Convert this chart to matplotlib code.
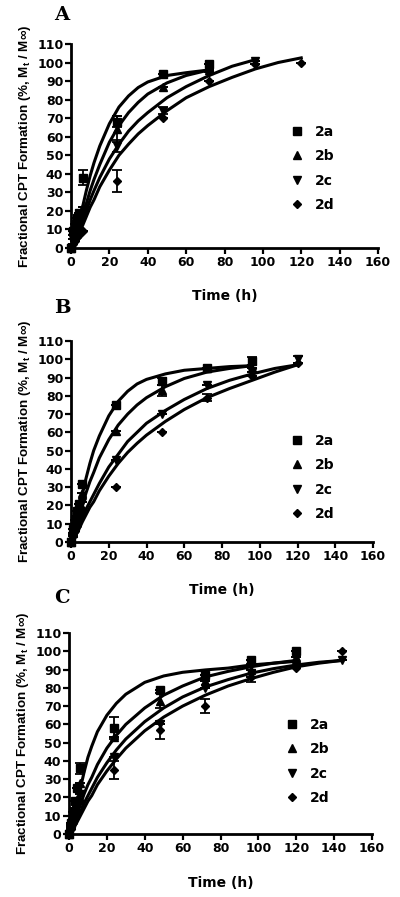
import numpy as np
import matplotlib
matplotlib.use("Agg")
import matplotlib.pyplot as plt

nan = np.nan
series = ['2a', '2b', '2c', '2d']
markers = ['s', '^', 'v', 'D']

# ---- panel A ----
A_fit_t = [0, 2, 4, 6, 8, 10, 12, 15, 20, 25, 30, 35, 40, 50, 60, 72, 84, 96, 108, 120]
A_fit = [
    [0, 5, 13, 22, 31, 39, 46, 55, 67, 76, 82, 86.5, 89.5, 93, 94.5, 96, nan, nan, nan, nan],
    [0, 4, 10, 17, 24, 31, 37, 45, 57, 66, 73, 78.5, 83, 89, 93, 96, nan, nan, nan, nan],
    [0, 3, 8, 14, 20, 26, 31, 38, 48, 56, 63, 68.5, 73, 81, 87, 93, 98, 101.5, nan, nan],
    [0, 2.5, 7, 12, 17, 22, 26, 33, 42, 50, 56, 61.5, 66, 74, 81, 87, 92, 96.5, 100, 102.5],
]
A_t = [0, 1, 2, 3, 4, 6, 24, 48, 72, 96, 120]
A_y = [
    [0, 9, 13, 16, 19, 38, 68, 94, 99, nan, nan],
    [0, 7, 11, 14, 17, 22, 64, 87, 96, nan, nan],
    [0, 5, 8, 11, 14, 18, 55, 74, 95, 101, nan],
    [0, 2, 4, 6, 7, 9, 36, 70, 90, 99, 100],
]
A_err = [
    [0, 0, 0, 0, 0, 4, 3, 0, 0, 0, 0],
    [0, 0, 0, 0, 0, 0, 7, 0, 0, 0, 0],
    [0, 0, 0, 0, 0, 0, 3, 2, 0, 0, 0],
    [0, 0, 0, 0, 0, 0, 6, 0, 0, 0, 0],
]

# ---- panel B ----
B_fit_t = [0, 2, 4, 6, 8, 10, 12, 15, 20, 25, 30, 35, 40, 50, 60, 72, 84, 96, 108, 120]
B_fit = [
    [0, 6, 16, 26, 35, 43, 50, 58, 69, 77, 82.5, 86.5, 89, 92, 94, 95, 96, 96.5, nan, nan],
    [0, 5, 12, 20, 27, 33, 38, 46, 56, 64, 70, 75, 79, 85, 89.5, 93, 95, 96.5, nan, nan],
    [0, 3, 8, 13, 18, 22, 26, 32, 41, 48, 55, 60, 65, 72, 78, 84, 88.5, 92, 95, 97],
    [0, 2.5, 6.5, 11, 15, 19, 22, 28, 36, 43, 49, 54, 58.5, 66, 72.5, 79, 84, 88.5, 93, 97],
]
B_t = [0, 1, 2, 3, 4, 6, 24, 48, 72, 96, 120]
B_y = [
    [0, 7, 12, 17, 21, 32, 75, 88, 95, 99, nan],
    [0, 5, 10, 14, 18, 27, 61, 83, 95, 95, nan],
    [0, 4, 8, 11, 14, 22, 45, 70, 86, 93, 100],
    [0, 3, 6, 9, 12, 18, 30, 60, 79, 91, 98],
]
B_err = [
    [0, 0, 0, 0, 0, 0, 0, 2, 0, 2, 0],
    [0, 0, 0, 0, 0, 0, 0, 3, 0, 0, 0],
    [0, 0, 0, 0, 0, 0, 0, 0, 0, 0, 2],
    [0, 0, 0, 0, 0, 0, 0, 0, 2, 0, 0],
]

# ---- panel C ----
C_fit_t = [0, 2, 4, 6, 8, 10, 12, 15, 20, 25, 30, 40, 50, 60, 72, 84, 96, 108, 120, 132, 144]
C_fit = [
    [0, 6, 15, 25, 34, 42, 48, 56, 65, 71.5, 76.5, 83, 86.5, 88.5, 89.8, 90.8, 92.5, 93.5, 94.5, nan, nan],
    [0, 4, 10, 16, 22, 27, 31, 38, 47, 54, 60, 69, 76, 81, 86, 89, 91.5, 93.5, 95, nan, nan],
    [0, 3, 7.5, 12, 17, 21, 25, 31, 39, 46, 52, 61.5, 69, 75, 80.5, 84.5, 88, 90.5, 92.5, 94, 95],
    [0, 2.5, 6, 10, 14, 18, 21, 27, 34.5, 41, 47, 56.5, 64, 70, 76, 81, 85, 88.5, 91.5, 93.5, 95],
]
C_t = [0, 1, 2, 3, 4, 6, 24, 48, 72, 96, 120, 144]
C_y = [
    [0, 6, 12, 18, 25, 36, 58, 79, 87, 95, 100, nan],
    [0, 5, 10, 14, 19, 28, 53, 73, 84, 90, 97, nan],
    [0, 4, 8, 11, 15, 22, 42, 60, 80, 88, 92, 95],
    [0, 3, 6, 9, 12, 18, 35, 57, 70, 86, 91, 100],
]
C_err = [
    [0, 0, 0, 0, 0, 3, 6, 0, 0, 0, 0, 0],
    [0, 0, 0, 0, 0, 0, 0, 4, 0, 0, 0, 0],
    [0, 0, 0, 0, 0, 0, 0, 0, 0, 5, 0, 0],
    [0, 0, 0, 0, 0, 0, 5, 5, 4, 0, 0, 0],
]

# axes rect, letter y, legend anchor
panels = [
    ('A', A_fit_t, A_fit, A_t, A_y, A_err, [0.1775, 0.7235, 0.7675, 0.2275], 0.983, (0.667, 0.665)),
    ('B', B_fit_t, B_fit, B_t, B_y, B_err, [0.1775, 0.3958, 0.755, 0.224], 0.657, (0.68, 0.60)),
    ('C', C_fit_t, C_fit, C_t, C_y, C_err, [0.1725, 0.0702, 0.7575, 0.2241], 0.333, (0.667, 0.64)),
]

plt.rcParams['font.family'] = ['DejaVu Sans']
plt.rcParams['font.weight'] = 'bold'
plt.rcParams['mathtext.fontset'] = 'custom'
plt.rcParams['mathtext.bf'] = 'Liberation Sans:bold'
plt.rcParams['mathtext.rm'] = 'Liberation Sans:bold'

fig = plt.figure(figsize=(4.0, 8.97), dpi=100)

for letter, ft, fits, pt, ys, errs, rect, ly, lanchor in panels:
    ax = fig.add_axes(rect)
    for i in range(4):
        ax.plot(ft, fits[i], color='black', lw=2.2, clip_on=False)
        ax.errorbar(pt, ys[i], yerr=errs[i], fmt='none', ecolor='black',
                    elinewidth=1.3, capsize=3.5, capthick=1.3, clip_on=False)
        ax.plot(pt, ys[i], ls='none', marker=markers[i], color='black',
                ms=6 if markers[i] != 'D' else 4.5, label=series[i], clip_on=False)
    ax.set_xlim(0, 160)
    ax.set_ylim(0, 110)
    ax.set_xticks(range(0, 161, 20))
    ax.set_yticks(range(0, 111, 10))
    for s in ['top', 'right']:
        ax.spines[s].set_visible(False)
    for s in ['left', 'bottom']:
        ax.spines[s].set_linewidth(2)
    ax.tick_params(width=1.6, length=4, labelsize=9, pad=1.5)
    ax.set_xlabel('Time (h)', fontsize=10, fontweight='bold', labelpad=15)
    ax.set_ylabel(r'Fractional CPT Formation (%, M$_\mathbf{t}$ / M$\mathbf{\infty}$)',
                  fontsize=9.6, fontweight='bold', family='Liberation Sans', labelpad=3)
    ax.legend(loc='upper left', bbox_to_anchor=lanchor, frameon=False,
              fontsize=10, handletextpad=0.7, labelspacing=0.75, handlelength=1.2,
              markerscale=0.9)
    fig.text(0.155, ly, letter, fontsize=14, fontweight='bold',
             family='DejaVu Serif', ha='center', va='center')

fig.savefig('out.png', dpi=100)
